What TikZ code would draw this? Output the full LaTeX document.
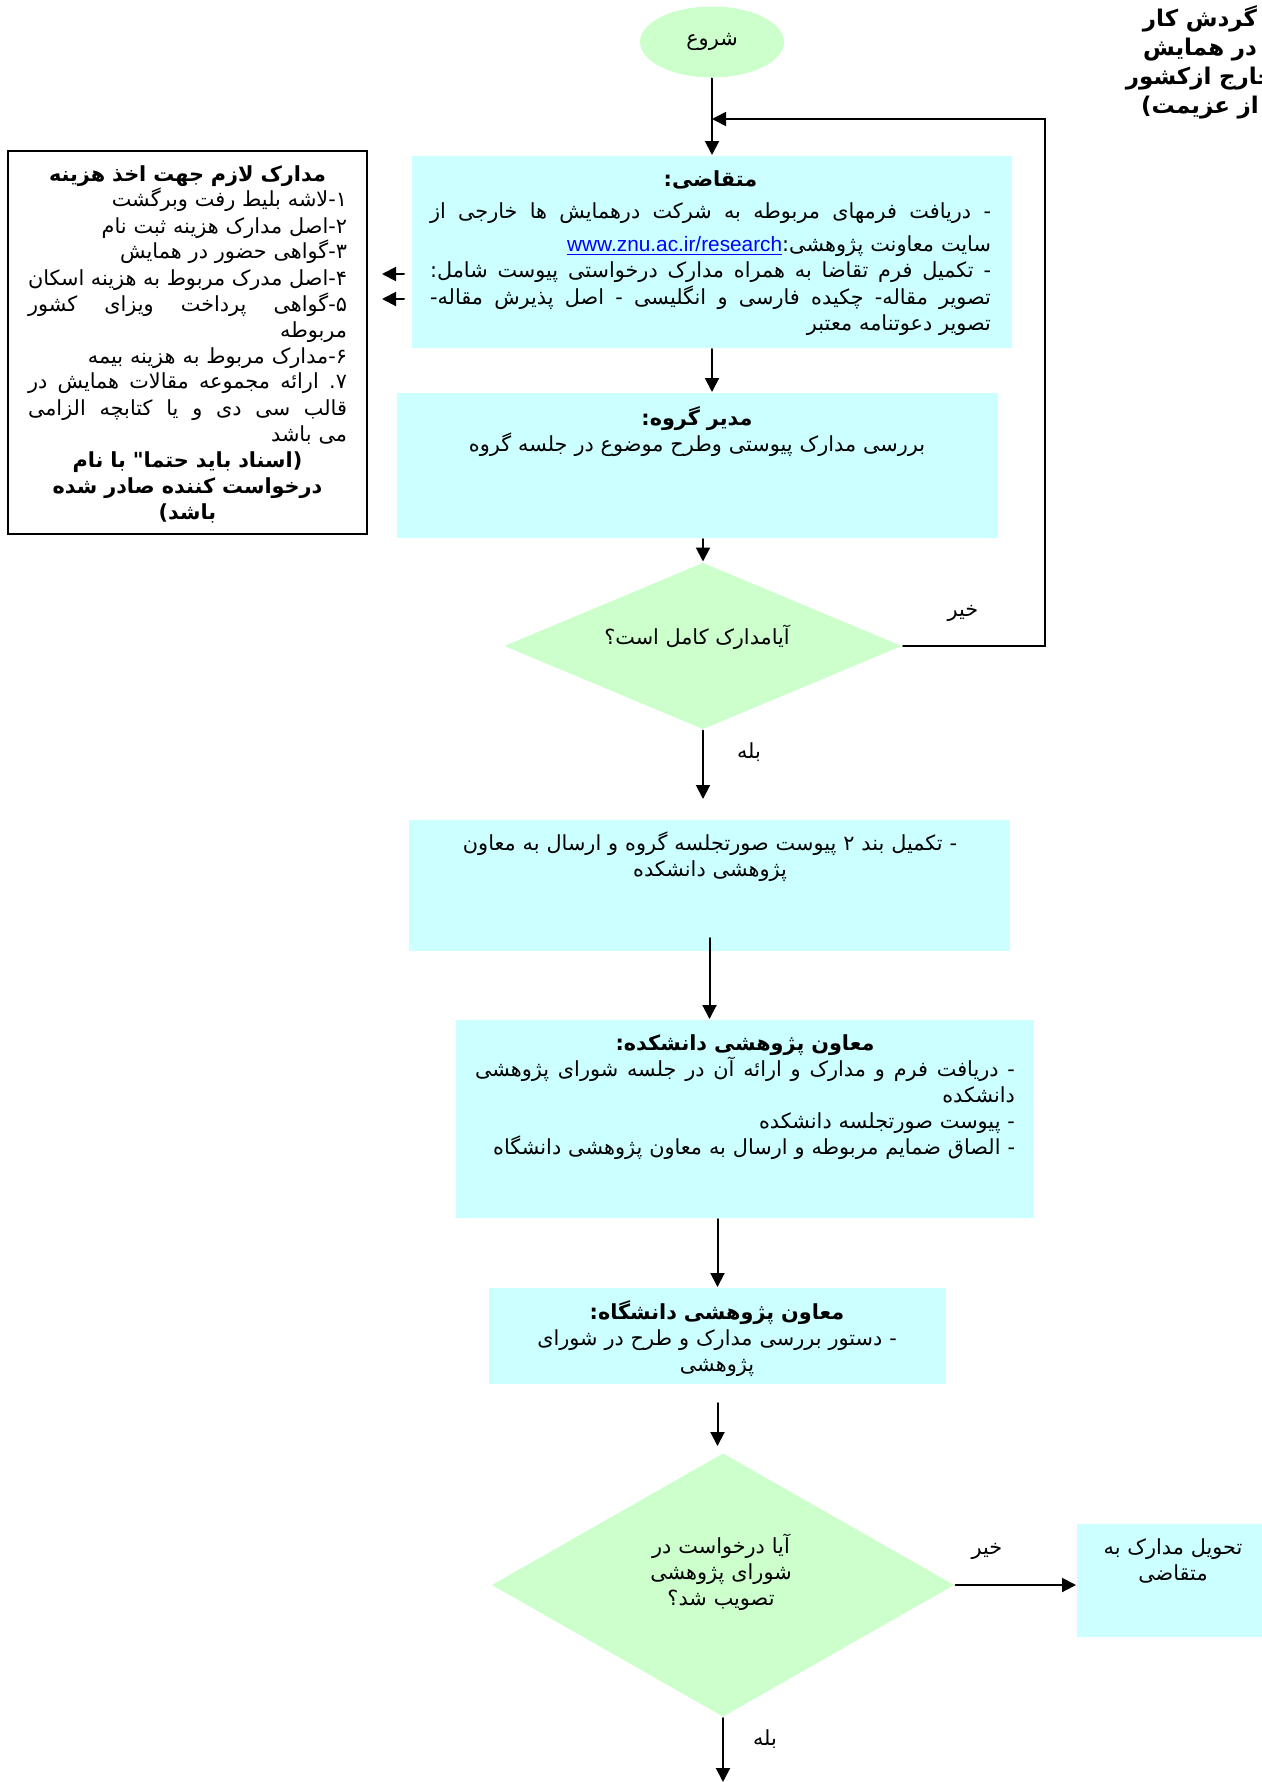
\documentclass[tikz,border=0pt]{standalone}
\usepackage{fontspec}
\usetikzlibrary{shapes.geometric,arrows.meta}
\TeXXeTstate=1
\newfontfamily\arabicfont[Script=Arabic]{DejaVu Sans}
\newfontfamily\latinfont{Liberation Sans}
\definecolor{boxcyan}{RGB}{204, 255, 255}
\definecolor{decgreen}{RGB}{204, 255, 204}
\definecolor{linkblue}{RGB}{0, 0, 255}
\newcommand\fatext{\arabicfont\fontsize{10.4}{13}\selectfont}
\newcommand\lineR[1]{\beginR#1\endR}
\newcommand\lineJ[1]{\makebox[\hsize][s]{\spaceskip=\fontdimen2\font plus 1fill\beginR#1\endR}}
\newcommand\lineC[1]{\makebox[\hsize]{\beginR#1\endR}}

\begin{document}
\begin{tikzpicture}[x=0.5pt, y=-0.5pt, line width=1pt, line cap=round,
    stepbox/.style={rectangle, fill=boxcyan, inner sep=0pt},
    decision/.style={diamond, fill=decgreen, inner sep=0pt},
    blocktext/.style={font=\fatext, inner sep=0pt, align=right, anchor=base},
    lbl/.style={font=\fatext, inner sep=0pt, anchor=base},
    arr/.style={-{Triangle[length=7pt, width=7pt]}, line width=1pt}]

    \useasboundingbox (0,0) rectangle (1262,1782);

    \node[blocktext, align=center, text width=150pt,
        font=\arabicfont\bfseries\fontsize{11.5}{14.5}\selectfont] (title) at (1200,27)
        {\lineR{گردش کار}\\ \lineR{در همایش}\\ \lineR{خارج ازکشور}\\ \lineR{از عزیمت)}};

    \node[ellipse, fill=decgreen, minimum width=72pt, minimum height=35.5pt, inner sep=0pt, font=\fatext] (start) at (712,42) {\lineR{شروع}};

    \node[stepbox, minimum width=300pt, minimum height=96pt] (req) at (712,252) {};
    \node[blocktext, text width=280.5pt] (reqtxt) at (710.5,186)
        {\lineC{\bfseries متقاضی:}\\[3pt]
         \lineJ{- دریافت فرمهای مربوطه به شرکت درهمایش ها خارجی از}\\[3.5pt]
         \lineR{سایت معاونت پژوهشی:\beginL{\latinfont\textcolor{linkblue}{\underline{www.znu.ac.ir/research}}}\endL}\\
         \lineJ{- تکمیل فرم تقاضا به همراه مدارک درخواستی پیوست شامل:}\\[0.5pt]
         \lineJ{تصویر مقاله- چکیده فارسی و انگلیسی - اصل پذیرش مقاله-}\\
         \lineR{تصویر دعوتنامه معتبر}};

    \node[draw, line width=1pt, minimum width=179.5pt, minimum height=191.5pt, inner sep=0pt] (docs) at (187.5,342.5) {};
    \node[blocktext, text width=159.5pt] (docstxt) at (187.5,181)
        {\lineC{\bfseries مدارک لازم جهت اخذ هزینه}\\
         \lineR{۱-لاشه بلیط رفت وبرگشت}\\
         \lineR{۲-اصل مدارک هزینه ثبت نام}\\
         \lineR{۳-گواهی حضور در همایش}\\
         \lineJ{۴-اصل مدرک مربوط به هزینه اسکان}\\
         \lineJ{۵-گواهی پرداخت ویزای کشور}\\
         \lineR{مربوطه}\\
         \lineR{۶-مدارک مربوط به هزینه بیمه}\\
         \lineJ{۷. ارائه مجموعه مقالات همایش در}\\
         \lineJ{قالب سی دی و یا کتابچه الزامی}\\
         \lineR{می باشد}\\
         \lineC{\bfseries (اسناد باید حتما" با نام}\\
         \lineC{\bfseries درخواست کننده صادر شده}\\
         \lineC{\bfseries باشد)}};

    \coordinate (docsin1) at (382,274);
    \coordinate (docsin2) at (382,299);
    \draw[arr, shorten <=3.5pt] (req.west |- docsin1) -- (docsin1);
    \draw[arr, shorten <=3.5pt] (req.west |- docsin2) -- (docsin2);

    \node[stepbox, minimum width=300.5pt, minimum height=72.5pt] (head) at (697.5,465.5) {};
    \node[blocktext, align=center, text width=290pt] (headtxt) at (697,425)
        {\lineR{\textbf{مدیر گروه:}}\\ \lineR{بررسی مدارک پیوستی وطرح موضوع در جلسه گروه}};

    \node[decision, minimum width=199pt, minimum height=83.5pt] (check1) at (703,646) {};
    \node[lbl] (check1txt) at (697,644) {\lineR{آیامدارک کامل است؟}};

    \node[stepbox, minimum width=300.5pt, minimum height=65.5pt] (form2) at (709.5,885.5) {};
    \node[blocktext, align=center, text width=290pt] (form2txt) at (710,850)
        {\lineR{- تکمیل بند ۲ پیوست صورتجلسه گروه و ارسال به معاون}\\ \lineR{پژوهشی دانشکده}};

    \node[stepbox, minimum width=289pt, minimum height=99pt] (faculty) at (745,1119) {};
    \node[blocktext, text width=270pt] (facultytxt) at (745,1050)
        {\lineC{\bfseries معاون پژوهشی دانشکده:}\\
         \lineJ{- دریافت فرم و مدارک و ارائه آن در جلسه شورای پژوهشی}\\
         \lineR{دانشکده}\\
         \lineR{- پیوست صورتجلسه دانشکده}\\
         \lineR{- الصاق ضمایم مربوطه  و ارسال به معاون پژوهشی دانشگاه}};

    \node[stepbox, minimum width=228.5pt, minimum height=48pt] (univ) at (717.5,1336) {};
    \node[blocktext, align=center, text width=220pt] (univtxt) at (717,1319)
        {\lineR{\textbf{معاون پژوهشی دانشگاه:}}\\ \lineR{- دستور بررسی مدارک و طرح در شورای}\\ \lineR{پژوهشی}};

    \node[decision, minimum width=231.5pt, minimum height=132pt] (check2) at (723,1585) {};
    \node[blocktext, align=center, text width=120pt] (check2txt) at (721,1553)
        {\lineR{آیا درخواست در}\\ \lineR{شورای پژوهشی}\\ \lineR{تصویب شد؟}};

    \node[stepbox, minimum width=106.5pt, minimum height=56.5pt] (ret) at (1183.5,1580.5) {};
    \node[blocktext, align=center, text width=90pt] (rettxt) at (1173,1554)
        {\lineR{تحویل مدارک به}\\ \lineR{متقاضی}};

    \coordinate (merge) at (712,119);
    \coordinate (loopcorner) at (1045,119);
    \coordinate (nextstep) at (723,1782);

    \draw[arr] (start) -- (req);
    \draw[arr, line width=0.8pt] (check1.east) -| (loopcorner) -- (merge);
    \draw[arr] (req.south) -- (req.south |- head.north);
    \draw[arr] (head.south -| check1.north) -- (check1.north);
    \draw[arr, shorten >=10pt] (check1.south) -- (check1.south |- form2.north);
    \draw[arr, shorten <=-7pt] (form2.south) -- (form2.south |- faculty.north);
    \draw[arr] (univ.north |- faculty.south) -- (univ.north);
    \draw[arr, shorten <=9pt, shorten >=3pt] (univ.south) -- (univ.south |- check2.north);
    \draw[arr] (check2.east) -- (check2.east -| ret.west);
    \draw[arr] (check2.south) -- (nextstep);

    \node[lbl] (no1) at (963,616) {\lineR{خیر}};
    \node[lbl] (yes1) at (749,758) {\lineR{بله}};
    \node[lbl] (no2) at (987,1554) {\lineR{خیر}};
    \node[lbl] (yes2) at (765,1745) {\lineR{بله}};

\end{tikzpicture}
\end{document}
